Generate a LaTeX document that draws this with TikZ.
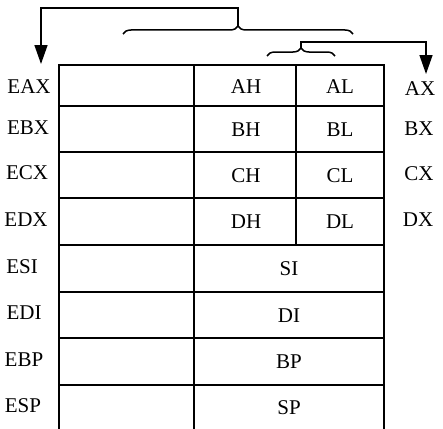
\documentclass[tikz,border=0pt]{standalone}
\usepackage{fontspec}
\setmainfont{Liberation Serif}
\usetikzlibrary{arrows.meta,decorations.pathreplacing}
\begin{document}
\begin{tikzpicture}[x=1pt,y=-1pt,
  grid/.style={line width=1.4pt,line cap=rect},
  lbl/.style={font=\fontsize{21}{23}\selectfont,inner sep=1pt},
  conn/.style={line width=1.4pt,-{Triangle[length=19pt,width=13pt]}},
  bracestyle/.style={line width=1.5pt,decorate,decoration={brace,amplitude=8pt}}]
\useasboundingbox (0,0) rectangle (443,428);
% grid
\draw[grid] (59,428) -- (59,65) -- (384,65) -- (384,428);
\draw[grid] (194,65) -- (194,428);
\draw[grid] (296,65) -- (296,245);
\foreach \y in {106,152,198,245,292,338,385} \draw[grid] (59,\y) -- (384,\y);
% left labels
\node[lbl] (eax) at (29,87) {EAX};
\node[lbl] (ebx) at (28,128) {EBX};
\node[lbl] (ecx) at (27,173) {ECX};
\node[lbl] (edx) at (26,220) {EDX};
\node[lbl] (esi) at (22,267) {ESI};
\node[lbl] (edi) at (24,313) {EDI};
\node[lbl] (ebp) at (24,360) {EBP};
\node[lbl] (esp) at (23,406) {ESP};
% right labels
\node[lbl] (ax) at (420,89) {AX};
\node[lbl] (bx) at (419,129) {BX};
\node[lbl] (cx) at (419,174) {CX};
\node[lbl] (dx) at (418,220) {DX};
% cell labels
\node[lbl] (ah) at (246,87) {AH};
\node[lbl] (al) at (340,87) {AL};
\node[lbl] (bh) at (246,130) {BH};
\node[lbl] (bl) at (340,130) {BL};
\node[lbl] (ch) at (246,176) {CH};
\node[lbl] (cl) at (340,176) {CL};
\node[lbl] (dh) at (246,222) {DH};
\node[lbl] (dl) at (340,222) {DL};
\node[lbl] (si) at (289,269) {SI};
\node[lbl] (di) at (289,316) {DI};
\node[lbl] (bp) at (289,362) {BP};
\node[lbl] (sp) at (289,408) {SP};
% braces
\draw[bracestyle] (123,34) -- (353,34);
\draw[bracestyle] (267,56) -- (335,56);
\coordinate (bigtip) at (238,26);
\coordinate (smalltip) at (301,48);
\coordinate (eaxend) at (41,64);
\coordinate (axend) at (426,74);
\draw[conn] (bigtip) -- (238,8) -- (41,8) -- (eaxend);
\draw[conn] (smalltip) -- (301,42) -- (426,42) -- (axend);
\end{tikzpicture}
\end{document}
